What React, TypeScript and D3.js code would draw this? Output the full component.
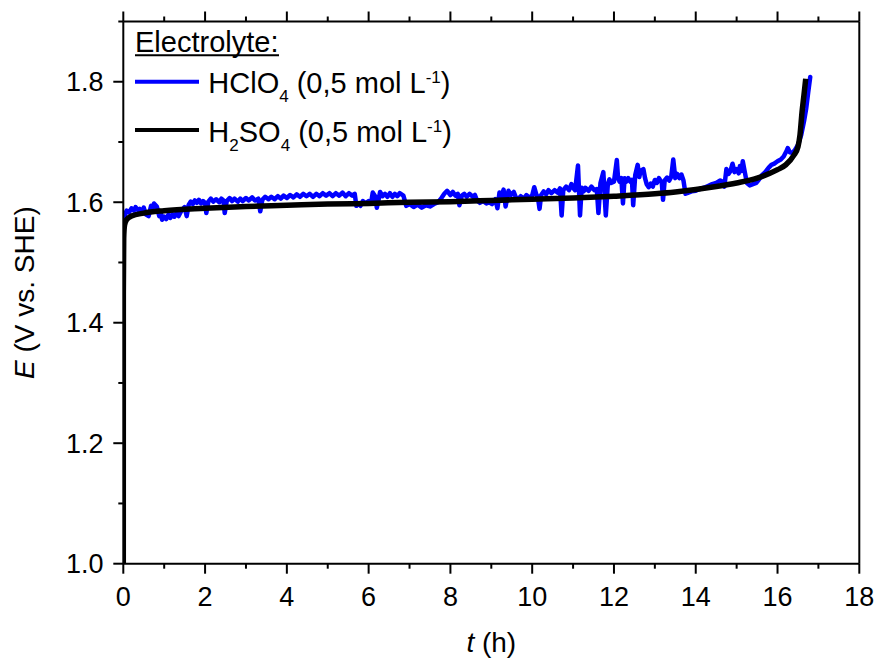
import React from "react";
import * as d3 from "d3";

// ---- data ----
const xMajorTicks = [0, 2, 4, 6, 8, 10, 12, 14, 16, 18];
const xMinorTicks = [1, 3, 5, 7, 9, 11, 13, 15, 17];
const yMajorTicks = [1.0, 1.2, 1.4, 1.6, 1.8];
const yMinorTicks = [1.1, 1.3, 1.5, 1.7, 1.9];

// HClO4 (0,5 mol L-1): [t (h), E (V vs. SHE)]
const hclo4Points: [number, number][] = [
  [0, 1.0], [0.005, 1.55], [0.02, 1.575], [0.08, 1.586], [0.14, 1.583], [0.2, 1.59], [0.26, 1.586],
  [0.3, 1.592], [0.36, 1.587], [0.4, 1.589], [0.46, 1.585], [0.5, 1.591], [0.55, 1.58], [0.62, 1.577],
  [0.68, 1.594], [0.72, 1.59], [0.75, 1.598], [0.82, 1.593], [0.88, 1.577], [0.92, 1.581], [0.95, 1.571],
  [1.0, 1.576], [1.05, 1.572], [1.1, 1.579], [1.15, 1.574], [1.2, 1.58], [1.25, 1.576], [1.3, 1.582],
  [1.35, 1.577], [1.42, 1.586], [1.5, 1.592], [1.55, 1.577], [1.6, 1.596], [1.65, 1.601], [1.7, 1.597],
  [1.75, 1.603], [1.8, 1.599], [1.85, 1.604], [1.9, 1.598], [1.95, 1.602], [2.0, 1.599], [2.03, 1.582],
  [2.08, 1.601], [2.14, 1.606], [2.2, 1.601], [2.27, 1.605], [2.35, 1.6], [2.4, 1.606], [2.45, 1.603],
  [2.48, 1.582], [2.53, 1.602], [2.6, 1.607], [2.66, 1.602], [2.72, 1.606], [2.8, 1.601], [2.86, 1.606],
  [2.92, 1.602], [3.0, 1.607], [3.07, 1.603], [3.15, 1.608], [3.22, 1.603], [3.3, 1.606], [3.35, 1.585],
  [3.4, 1.604], [3.47, 1.609], [3.55, 1.605], [3.62, 1.609], [3.7, 1.605], [3.78, 1.61], [3.85, 1.606],
  [3.92, 1.611], [4.0, 1.607], [4.08, 1.612], [4.16, 1.608], [4.24, 1.613], [4.32, 1.609], [4.4, 1.614],
  [4.48, 1.61], [4.56, 1.614], [4.64, 1.609], [4.72, 1.614], [4.8, 1.61], [4.88, 1.615], [4.96, 1.611],
  [5.04, 1.615], [5.12, 1.61], [5.2, 1.615], [5.28, 1.611], [5.36, 1.616], [5.44, 1.61], [5.52, 1.615],
  [5.6, 1.611], [5.66, 1.614], [5.7, 1.594], [5.76, 1.598], [5.8, 1.594], [5.86, 1.602], [5.92, 1.598],
  [6.0, 1.602], [6.06, 1.599], [6.1, 1.616], [6.16, 1.61], [6.2, 1.591], [6.25, 1.606], [6.28, 1.617],
  [6.34, 1.61], [6.4, 1.614], [6.46, 1.609], [6.52, 1.615], [6.58, 1.609], [6.64, 1.614], [6.7, 1.61],
  [6.76, 1.615], [6.85, 1.611], [6.92, 1.594], [7.0, 1.597], [7.1, 1.592], [7.2, 1.596], [7.3, 1.591],
  [7.4, 1.595], [7.5, 1.593], [7.6, 1.597], [7.7, 1.6], [7.78, 1.607], [7.85, 1.614], [7.92, 1.619],
  [8.0, 1.612], [8.06, 1.617], [8.12, 1.611], [8.18, 1.614], [8.22, 1.595], [8.28, 1.611], [8.34, 1.614],
  [8.4, 1.609], [8.47, 1.614], [8.55, 1.609], [8.6, 1.612], [8.65, 1.603], [8.72, 1.599], [8.8, 1.602],
  [8.88, 1.598], [8.95, 1.6], [9.02, 1.597], [9.1, 1.605], [9.15, 1.59], [9.2, 1.616], [9.26, 1.611],
  [9.3, 1.621], [9.35, 1.593], [9.42, 1.619], [9.48, 1.612], [9.55, 1.617], [9.6, 1.608], [9.65, 1.605],
  [9.72, 1.61], [9.8, 1.606], [9.86, 1.612], [9.92, 1.608], [10.0, 1.611], [10.05, 1.625], [10.1, 1.613],
  [10.14, 1.608], [10.18, 1.589], [10.22, 1.612], [10.28, 1.618], [10.34, 1.613], [10.4, 1.62],
  [10.47, 1.615], [10.55, 1.62], [10.62, 1.616], [10.68, 1.623], [10.72, 1.578], [10.76, 1.62],
  [10.83, 1.626], [10.9, 1.62], [10.96, 1.63], [11.0, 1.624], [11.05, 1.62], [11.12, 1.661],
  [11.17, 1.578], [11.21, 1.624], [11.26, 1.618], [11.3, 1.624], [11.38, 1.619], [11.45, 1.626],
  [11.52, 1.62], [11.58, 1.622], [11.62, 1.582], [11.67, 1.632], [11.74, 1.65], [11.8, 1.578],
  [11.85, 1.63], [11.89, 1.638], [11.93, 1.632], [12.0, 1.634], [12.07, 1.67], [12.1, 1.64],
  [12.14, 1.634], [12.18, 1.64], [12.22, 1.598], [12.26, 1.64], [12.3, 1.634], [12.35, 1.64],
  [12.4, 1.634], [12.44, 1.637], [12.47, 1.595], [12.52, 1.645], [12.58, 1.662], [12.62, 1.642],
  [12.65, 1.652], [12.72, 1.655], [12.76, 1.64], [12.8, 1.63], [12.85, 1.625], [12.9, 1.631],
  [12.95, 1.626], [13.0, 1.637], [13.05, 1.632], [13.1, 1.64], [13.17, 1.632], [13.2, 1.604],
  [13.24, 1.636], [13.3, 1.641], [13.35, 1.636], [13.4, 1.642], [13.45, 1.671], [13.5, 1.64],
  [13.55, 1.647], [13.6, 1.64], [13.65, 1.646], [13.7, 1.636], [13.75, 1.614], [13.82, 1.616],
  [13.9, 1.618], [14.0, 1.619], [14.1, 1.622], [14.2, 1.624], [14.3, 1.627], [14.4, 1.63],
  [14.5, 1.632], [14.6, 1.636], [14.66, 1.634], [14.7, 1.626], [14.75, 1.655], [14.8, 1.647],
  [14.85, 1.652], [14.9, 1.664], [14.95, 1.65], [15.0, 1.655], [15.05, 1.648], [15.08, 1.66],
  [15.12, 1.652], [15.15, 1.668], [15.2, 1.65], [15.25, 1.632], [15.32, 1.628], [15.4, 1.63],
  [15.48, 1.632], [15.55, 1.638], [15.62, 1.645], [15.7, 1.65], [15.78, 1.657], [15.85, 1.662],
  [15.92, 1.664], [16.0, 1.668], [16.08, 1.671], [16.15, 1.676], [16.22, 1.685], [16.25, 1.69],
  [16.3, 1.683], [16.36, 1.682], [16.42, 1.686], [16.5, 1.695], [16.58, 1.712], [16.65, 1.735],
  [16.7, 1.755], [16.75, 1.782], [16.8, 1.808],
];

// H2SO4 (0,5 mol L-1): [t (h), E (V vs. SHE)]
const h2so4Points: [number, number][] = [
  [0, 1.0], [0.001, 1.45], [0.01, 1.54], [0.03, 1.562], [0.08, 1.571], [0.2, 1.577],
  [0.5, 1.582], [1.0, 1.586], [2.0, 1.59], [3.0, 1.593], [4.0, 1.595], [5.0, 1.597],
  [6.0, 1.598], [7.0, 1.6], [8.0, 1.601], [9.0, 1.603], [10.0, 1.605], [11.0, 1.607],
  [12.0, 1.61], [13.0, 1.614], [13.5, 1.617], [14.0, 1.621], [14.5, 1.626], [15.0, 1.632],
  [15.5, 1.64], [16.0, 1.654], [16.2, 1.662], [16.4, 1.678], [16.5, 1.692], [16.55, 1.712],
  [16.6, 1.75], [16.65, 1.78], [16.69, 1.805],
];

const legendTitle = "Electrolyte:";

// ---- layout ----
const W = 877;
const H = 660;
const FONT = "'Liberation Sans', Arial, sans-serif";

export default function App() {
  const x = d3.scaleLinear().domain([0, 18]).range([123.3, 859.3]);
  const y = d3.scaleLinear().domain([1.0, 1.9]).range([563.7, 21.5]);
  const [x0, x1] = x.range();
  const [y0, y1] = y.range();

  const line = d3
    .line<[number, number]>()
    .x((d) => x(d[0]))
    .y((d) => y(d[1]));
  const smooth = d3
    .line<[number, number]>()
    .x((d) => x(d[0]))
    .y((d) => y(d[1]))
    .curve(d3.curveMonotoneX);

  const major = 10;
  const minor = 5;

  return (
    <svg
      width={W}
      height={H}
      style={{ position: "absolute", left: 0, top: 0, background: "#fff" }}
      fontFamily={FONT}
    >
      <rect x={0} y={0} width={W} height={H} fill="#fff" />
      <defs>
        <clipPath id="plotclip">
          <rect x={x0} y={y1} width={x1 - x0} height={y0 - y1} />
        </clipPath>
      </defs>

      {/* data */}
      <g clipPath="url(#plotclip)">
        <path
          d={line(hclo4Points) || ""}
          fill="none"
          stroke="#0000ff"
          strokeWidth={4.5}
          strokeLinejoin="round"
          strokeLinecap="round"
        />
        <path
          d={smooth(h2so4Points) || ""}
          fill="none"
          stroke="#000"
          strokeWidth={5.5}
          strokeLinejoin="round"
        />
      </g>

      {/* frame */}
      <g stroke="#000" strokeWidth={2} fill="none">
        <line x1={x0} x2={x1} y1={y0} y2={y0} />
        <line x1={x0} x2={x1} y1={y1} y2={y1} />
        <line x1={x0} x2={x0} y1={y0} y2={y1} />
        <line x1={x1} x2={x1} y1={y0} y2={y1} />
        {xMajorTicks.map((t) => (
          <g key={"xm" + t}>
            <line x1={x(t)} x2={x(t)} y1={y0} y2={y0 + major} />
            <line x1={x(t)} x2={x(t)} y1={y1} y2={y1 - major} />
          </g>
        ))}
        {xMinorTicks.map((t) => (
          <g key={"xn" + t}>
            <line x1={x(t)} x2={x(t)} y1={y0} y2={y0 + minor} />
            <line x1={x(t)} x2={x(t)} y1={y1} y2={y1 - minor} />
          </g>
        ))}
        {yMajorTicks.map((v) => (
          <line key={"ym" + v} x1={x0} x2={x0 - major} y1={y(v)} y2={y(v)} />
        ))}
        {yMinorTicks.map((v) => (
          <line key={"yn" + v} x1={x0} x2={x0 - minor} y1={y(v)} y2={y(v)} />
        ))}
      </g>

      {/* tick labels */}
      <g fontSize={27} fill="#000">
        {xMajorTicks.map((t) => (
          <text key={"xl" + t} x={x(t)} y={606} textAnchor="middle">
            {d3.format("d")(t)}
          </text>
        ))}
        {yMajorTicks.map((v) => (
          <text key={"yl" + v} x={103.5} y={y(v) + 9.5} textAnchor="end">
            {d3.format(".1f")(v)}
          </text>
        ))}
      </g>

      {/* axis titles */}
      <text x={(x0 + x1) / 2} y={652} textAnchor="middle" fontSize={28} fill="#000">
        <tspan fontStyle="italic">t</tspan>
        <tspan> (h)</tspan>
      </text>
      <text
        transform={`translate(33.5, ${(y0 + y1) / 2}) rotate(-90)`}
        textAnchor="middle"
        fontSize={28}
        fill="#000"
      >
        <tspan fontStyle="italic">E</tspan>
        <tspan> (V vs. SHE)</tspan>
      </text>

      {/* legend */}
      <g fontSize={29} fill="#000">
        <text x={135} y={52.3}>{legendTitle}</text>
        <line x1={135} x2={279} y1={55.2} y2={55.2} stroke="#000" strokeWidth={2} />
        <line x1={135} x2={199} y1={81.7} y2={81.7} stroke="#0000ff" strokeWidth={4} />
        <line x1={135} x2={199} y1={130} y2={130} stroke="#000" strokeWidth={4} />
        <text x={208.3} y={92.7}>
          <tspan>HClO</tspan>
          <tspan fontSize={17} dy={9}>4</tspan>
          <tspan dy={-9}> (0,5 mol L</tspan>
          <tspan fontSize={17} dy={-9.5}>-1</tspan>
          <tspan dy={9.5}>)</tspan>
        </text>
        <text x={208.3} y={141.7}>
          <tspan>H</tspan>
          <tspan fontSize={17} dy={9}>2</tspan>
          <tspan dy={-9}>SO</tspan>
          <tspan fontSize={17} dy={9}>4</tspan>
          <tspan dy={-9}> (0,5 mol L</tspan>
          <tspan fontSize={17} dy={-9.5}>-1</tspan>
          <tspan dy={9.5}>)</tspan>
        </text>
      </g>
    </svg>
  );
}
